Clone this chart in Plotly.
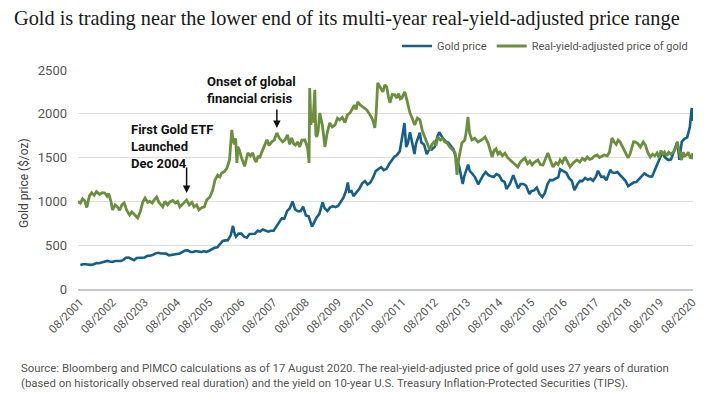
import plotly.graph_objects as go
import pandas as pd

# ---------------- data ----------------
gold_dates = [
 "2001-08-15","2001-09-15","2001-10-15","2001-11-15","2001-12-15",
 "2002-01-15","2002-02-15","2002-03-15","2002-04-15","2002-05-15","2002-06-15","2002-07-15","2002-08-15","2002-09-15","2002-10-15","2002-11-15","2002-12-15",
 "2003-01-15","2003-02-15","2003-03-15","2003-04-15","2003-05-15","2003-06-15","2003-07-15","2003-08-15","2003-09-15","2003-10-15","2003-11-15","2003-12-15",
 "2004-01-15","2004-02-15","2004-03-15","2004-04-15","2004-05-15","2004-06-15","2004-07-15","2004-08-15","2004-09-15","2004-10-15","2004-11-15","2004-12-15",
 "2005-01-15","2005-02-15","2005-03-15","2005-04-15","2005-05-15","2005-06-15","2005-07-15","2005-08-15","2005-09-15","2005-10-15","2005-11-15","2005-12-15",
 "2006-01-15","2006-02-15","2006-03-15","2006-04-15","2006-05-12","2006-05-25","2006-06-15","2006-07-15","2006-08-15","2006-09-15","2006-10-15","2006-11-15","2006-12-15",
 "2007-01-15","2007-02-15","2007-03-15","2007-04-15","2007-05-15","2007-06-15","2007-07-15","2007-08-15","2007-09-15","2007-10-15","2007-11-15","2007-12-15",
 "2008-01-15","2008-02-15","2008-03-17","2008-04-15","2008-05-15","2008-06-15","2008-07-15","2008-08-15","2008-09-15","2008-10-24","2008-11-15","2008-12-15",
 "2009-01-15","2009-02-20","2009-03-15","2009-04-15","2009-05-15","2009-06-15","2009-07-15","2009-08-15","2009-09-15","2009-10-15","2009-11-15","2009-12-03","2009-12-20",
 "2010-01-15","2010-02-05","2010-03-15","2010-04-15","2010-05-15","2010-06-15","2010-07-15","2010-08-15","2010-09-15","2010-10-15","2010-11-15","2010-12-15",
 "2011-01-15","2011-02-15","2011-03-15","2011-04-15","2011-05-15","2011-06-15","2011-07-15","2011-08-15","2011-09-06","2011-09-26","2011-10-15","2011-11-08","2011-12-29",
 "2012-01-15","2012-02-28","2012-03-15","2012-04-15","2012-05-16","2012-06-15","2012-07-15","2012-08-15","2012-09-15","2012-10-05","2012-11-15","2012-12-15",
 "2013-01-15","2013-02-15","2013-03-15","2013-04-15","2013-05-15","2013-06-28","2013-07-15","2013-08-28","2013-09-15","2013-10-15","2013-11-15","2013-12-20",
 "2014-01-15","2014-02-15","2014-03-15","2014-04-15","2014-05-15","2014-06-15","2014-07-15","2014-08-15","2014-09-15","2014-10-15","2014-11-06","2014-12-15",
 "2015-01-22","2015-02-15","2015-03-17","2015-04-15","2015-05-15","2015-06-15","2015-07-24","2015-08-15","2015-09-15","2015-10-15","2015-11-15","2015-12-17",
 "2016-01-15","2016-02-15","2016-03-15","2016-04-15","2016-05-15","2016-06-15","2016-07-06","2016-08-15","2016-09-15","2016-10-15","2016-11-15","2016-12-15",
 "2017-01-15","2017-02-15","2017-03-15","2017-04-15","2017-05-15","2017-06-15","2017-07-15","2017-08-15","2017-09-08","2017-10-15","2017-11-15","2017-12-12",
 "2018-01-25","2018-02-15","2018-03-15","2018-04-15","2018-05-15","2018-06-15","2018-07-15","2018-08-16","2018-09-15","2018-10-15","2018-11-15","2018-12-15",
 "2019-01-15","2019-02-15","2019-03-15","2019-04-15","2019-05-15","2019-06-15","2019-07-15","2019-08-15","2019-09-04","2019-10-15","2019-11-15","2019-12-15",
 "2020-01-15","2020-02-24","2020-03-19","2020-04-15","2020-05-15","2020-06-15","2020-07-15","2020-07-28","2020-08-06","2020-08-11","2020-08-17",
]
gold_price = [
 273,283,283,276,275,
 282,296,294,302,314,321,313,310,319,317,319,333,
 357,359,340,329,355,356,351,360,379,379,389,407,
 414,405,406,404,384,392,398,400,406,420,439,442,
 424,423,434,429,422,430,424,437,456,470,476,510,
 549,555,557,610,720,650,596,633,632,598,585,627,629,
 631,665,655,679,667,655,665,665,712,754,806,803,
 889,922,1000,909,888,889,939,839,829,712,760,816,
 858,990,924,890,929,946,934,949,996,1043,1127,1215,1110,
 1118,1060,1113,1148,1205,1232,1193,1215,1271,1343,1370,1391,
 1356,1372,1424,1474,1510,1529,1573,1756,1895,1620,1665,1790,1540,
 1656,1785,1673,1650,1540,1596,1594,1626,1744,1790,1722,1685,
 1671,1627,1593,1487,1414,1200,1286,1420,1349,1316,1275,1195,
 1244,1300,1336,1299,1287,1279,1311,1296,1239,1222,1142,1200,
 1300,1227,1150,1198,1199,1181,1085,1117,1125,1157,1086,1050,
 1097,1200,1246,1242,1260,1276,1366,1341,1326,1266,1236,1128,
 1192,1234,1231,1267,1246,1260,1236,1283,1350,1280,1282,1240,
 1360,1331,1325,1335,1303,1282,1238,1175,1199,1215,1220,1250,
 1291,1320,1300,1285,1284,1359,1413,1500,1552,1495,1471,1480,
 1560,1680,1475,1683,1715,1732,1847,1955,2067,1920,1985,
]

ryag_years = [
 2001.54,2001.62,2001.69,2001.76,2001.82,2001.90,2001.97,2002.05,2002.12,2002.22,2002.30,
 2002.38,2002.45,2002.50,2002.57,2002.62,2002.70,2002.77,2002.84,2002.91,2002.98,2003.06,
 2003.15,2003.22,2003.30,2003.40,2003.48,2003.56,2003.63,2003.71,2003.78,2003.85,2003.92,
 2003.99,2004.06,2004.18,2004.25,2004.33,2004.40,2004.49,2004.57,2004.64,2004.71,2004.80,
 2004.92,2005.00,2005.08,2005.15,2005.23,2005.30,2005.39,2005.47,2005.54,2005.64,2005.72,
 2005.80,2005.88,2005.95,2006.01,2006.09,2006.17,2006.25,2006.32,
 2006.36,2006.40,2006.44,2006.48,2006.51,2006.56,2006.62,2006.67,2006.72,2006.77,2006.82,
 2006.90,2006.97,2007.03,2007.08,2007.14,2007.19,2007.25,2007.30,2007.36,2007.41,2007.48,
 2007.56,2007.64,2007.72,2007.80,2007.90,2007.97,2008.05,2008.12,2008.18,2008.24,2008.30,
 2008.37,2008.43,2008.50,2008.59,2008.64,2008.68,2008.72,2008.74,2008.78,2008.80,2008.84,
 2008.88,2008.90,2008.93,2008.96,2009.00,2009.05,2009.13,2009.21,2009.28,2009.36,2009.44,
 2009.52,2009.60,2009.67,2009.75,2009.83,2009.91,2009.99,2010.07,2010.12,2010.18,2010.23,
 2010.31,2010.39,2010.45,2010.51,2010.59,2010.67,2010.72,2010.76,2010.80,2010.85,2010.93,
 2011.01,2011.07,2011.13,2011.18,2011.23,2011.30,2011.38,2011.44,2011.50,2011.55,2011.60,
 2011.66,2011.69,2011.76,2011.85,2011.92,2012.00,2012.08,2012.16,2012.24,2012.31,2012.39,
 2012.47,2012.53,2012.60,2012.66,2012.72,2012.80,2012.87,2012.93,2013.00,2013.09,2013.18,
 2013.25,2013.31,2013.36,2013.46,2013.55,2013.60,2013.65,2013.70,2013.77,2013.86,2013.96,
 2014.07,2014.18,2014.28,2014.35,2014.40,2014.46,2014.52,2014.58,2014.64,2014.72,2014.80,
 2014.89,2014.97,2015.05,2015.12,2015.20,2015.28,2015.35,2015.42,2015.50,2015.57,2015.64,
 2015.72,2015.82,2015.90,2015.98,2016.05,2016.13,2016.20,2016.29,2016.38,2016.45,2016.51,
 2016.58,2016.66,2016.74,2016.82,2016.92,2017.03,2017.12,2017.20,2017.28,2017.35,2017.42,
 2017.50,2017.58,2017.66,2017.73,2017.80,2017.88,2017.97,2018.04,2018.12,2018.18,2018.25,
 2018.31,2018.37,2018.45,2018.53,2018.62,2018.68,2018.74,2018.79,2018.84,2018.92,2019.00,
 2019.09,2019.16,2019.23,2019.31,2019.38,2019.45,2019.52,2019.58,2019.64,2019.70,2019.75,
 2019.82,2019.88,2019.94,2020.00,2020.06,2020.11,2020.15,2020.20,2020.24,2020.28,2020.33,
 2020.38,2020.44,2020.49,2020.55,2020.60,2020.63,
]
ryag_price = [
 1000,980,1030,1005,930,1060,1100,1070,1111,1080,1100,
 1096,1060,1090,1000,902,960,937,900,960,982,900,
 845,880,850,811,880,994,1039,990,1000,982,1020,
 1050,990,937,1000,960,994,1010,982,1000,937,970,
 1016,960,990,937,960,902,930,937,1016,1050,1120,
 1245,1300,1280,1325,1340,1380,1473,1816,
 1700,1650,1720,1439,1622,1580,1500,1450,1400,1480,1553,
 1520,1553,1480,1450,1520,1496,1560,1600,1650,1702,1640,
 1680,1700,1781,1720,1679,1700,1759,1650,1724,1660,1644,
 1679,1622,1700,1702,1650,1600,1439,2295,1873,2000,1900,
 2216,2273,1759,1736,1800,2010,1873,1622,1780,1896,1850,
 1870,1950,1930,1960,1900,1987,2010,2060,2100,2050,2136,
 2100,2080,2060,2044,2000,1950,1900,1839,2000,2353,2300,
 2250,2330,2307,2200,2124,2220,2216,2180,2230,2170,2181,
 2230,2250,2150,2010,1950,1873,1950,1930,1800,1736,1680,
 1587,1650,1680,1640,1736,1700,1720,1680,1667,1620,1587,
 1560,1302,1480,1667,1700,1800,1964,1780,1702,1720,1679,
 1700,1736,1660,1550,1507,1580,1600,1540,1564,1520,1550,
 1496,1470,1450,1420,1393,1450,1470,1496,1430,1460,1416,
 1450,1473,1420,1416,1480,1553,1480,1393,1440,1420,1473,
 1440,1507,1450,1393,1440,1473,1450,1490,1470,1507,1480,
 1490,1520,1530,1500,1510,1530,1520,1560,1724,1680,1650,
 1700,1679,1620,1560,1496,1540,1620,1680,1679,1660,1620,
 1679,1640,1560,1507,1540,1520,1553,1500,1580,1540,1564,
 1520,1560,1540,1553,1580,1620,1679,1560,1520,1473,1560,
 1520,1530,1560,1500,1496,1553,
]

tick_labels = ["08/2001","08/2002","08/0203","08/2004","08/2005","08/2006","08/2007",
               "08/2008","08/2009","08/2010","08/2011","08/2012","08/2013","08/2014",
               "08/2015","08/2016","08/2017","08/2018","08/2019","08/2020"]
tick_dates = ["2001-08-15","2002-08-15","2003-08-15","2004-08-15","2005-08-15","2006-08-15",
              "2007-08-15","2008-08-15","2009-08-15","2010-08-15","2011-08-15","2012-08-15",
              "2013-08-15","2014-08-15","2015-08-15","2016-08-15","2017-08-15","2018-08-15",
              "2019-08-15","2020-08-15"]


def yr_to_date(y):
    yr = int(y)
    start = pd.Timestamp(year=yr, month=1, day=1)
    return start + pd.Timedelta(days=(y - yr) * 365.25)

ryag_dates = [yr_to_date(v) for v in ryag_years]

BLUE = "#155f8c"
GREEN = "#6b8f3c"
FONT = "Roboto"

# page has an 8px body margin, so figure coords = page coords - 8
L, T, PW, PH = 70, 62, 615, 219

fig = go.Figure()
fig.add_trace(go.Scatter(x=pd.to_datetime(gold_dates), y=gold_price, mode="lines",
                         name="Gold price", line=dict(color=BLUE, width=2.6)))
fig.add_trace(go.Scatter(x=ryag_dates, y=ryag_price, mode="lines",
                         name="Real-yield-adjusted price of gold",
                         line=dict(color=GREEN, width=2.8)))

fig.update_layout(
    width=713, height=399,
    margin=dict(l=L, r=713-L-PW, t=T, b=399-T-PH, autoexpand=False),
    paper_bgcolor="white", plot_bgcolor="white",
    font=dict(family=FONT, color="#555555"),
    title=dict(text="Gold is trading near the lower end of its multi-year real-yield-adjusted price range",
               x=6/713, xanchor="left", y=1-10/399, yanchor="middle",
               font=dict(family="Liberation Serif", size=20.3, color="#1a1a1a")),
    showlegend=True,
    legend=dict(orientation="h", x=1.0, xanchor="right", y=1+(T-38)/PH, yanchor="middle",
                font=dict(size=11, color="#555555"), bgcolor="rgba(0,0,0,0)",
                itemwidth=30, traceorder="normal"),
    xaxis=dict(type="date", range=["2001-07-20", "2020-08-20"], automargin=False,
               tickvals=pd.to_datetime(tick_dates), ticktext=tick_labels, tickangle=-45,
               tickfont=dict(size=11.5, color="#555555"),
               showgrid=False, showline=True, linecolor="#c8c8c8", linewidth=2,
               ticks="", zeroline=False),
    yaxis=dict(range=[0, 2500], tickvals=[0, 500, 1000, 1500, 2000, 2500], automargin=False,
               tickfont=dict(size=13, color="#555555"),
               showgrid=True, gridcolor="#dedede", gridwidth=1,
               zeroline=False, showline=False, ticks="", ticklabelstandoff=10),
)

fig.add_annotation(text="Gold price ($/oz)", textangle=-90, xref="paper", yref="paper",
                   x=(16-L)/PW, y=(281-175)/PH, xanchor="center", yanchor="middle",
                   showarrow=False, font=dict(size=12, color="#404040"))

# annotations
fig.add_annotation(text="<b>First Gold ETF<br>Launched<br>Dec 2004</b>", x=yr_to_date(2003.13), y=1930,
                   xanchor="left", yanchor="top", align="left", showarrow=False,
                   font=dict(size=13, color="#111111"))
fig.add_annotation(text="", x=yr_to_date(2004.92), y=1096, ax=0, ay=-27,
                   showarrow=True, arrowhead=2, arrowsize=1, arrowwidth=1.5, arrowcolor="#111111")
fig.add_annotation(text="<b>Onset of global<br>financial crisis</b>", x=yr_to_date(2005.48), y=2480,
                   xanchor="left", yanchor="top", align="left", showarrow=False,
                   font=dict(size=13, color="#111111"))
fig.add_annotation(text="", x=yr_to_date(2007.72), y=1839, ax=0, ay=-20,
                   showarrow=True, arrowhead=2, arrowsize=1, arrowwidth=1.5, arrowcolor="#111111")

fig.add_annotation(
    text="Source: Bloomberg and PIMCO calculations as of 17 August 2020. The real-yield-adjusted price of gold uses 27 years of duration<br>"
         "(based on historically observed real duration) and the yield on 10-year U.S. Treasury Inflation-Protected Securities (TIPS).",
    xref="paper", yref="paper", x=(11-L)/PW, y=(281-351)/PH, xanchor="left", yanchor="top",
    align="left", showarrow=False, font=dict(size=11.4, color="#555555"))

fig.write_html("out.html")
